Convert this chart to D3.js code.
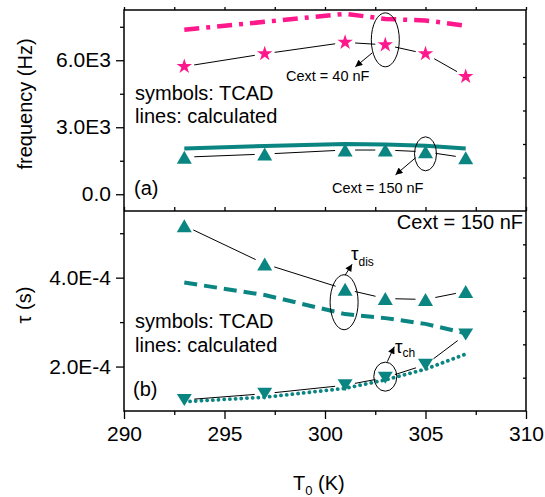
<!DOCTYPE html>
<html lang="en">
<head>
<meta charset="utf-8">
<script src="https://cdn.jsdelivr.net/npm/d3@7"></script>
<style>
  body { margin: 0; background: #ffffff; }
  svg { display: block; font-family: "Liberation Sans", Arial, sans-serif; }
</style>
</head>
<body>
<script>
// data
var temps = [293, 297, 301, 303, 305, 307];
var freq40Tcad = [5720, 6290, 6800, 6690, 6290, 5270];
var freq40Calc = [7370, 7720, 8080, 7850, 7780, 7550];
var freq150Tcad = [1660, 1800, 1980, 1980, 1900, 1630];
var freq150Calc = [2050, 2160, 2250, 2230, 2170, 2050];
var tauDisTcad = [5.17e-4, 4.31e-4, 3.74e-4, 3.53e-4, 3.51e-4, 3.69e-4];
var tauDisCalc = [3.89e-4, 3.61e-4, 3.18e-4, 3.09e-4, 2.96e-4, 2.75e-4];
var tauChTcad = [1.25e-4, 1.39e-4, 1.58e-4, 1.75e-4, 2.04e-4, 2.72e-4];
var tauChCalc = [1.21e-4, 1.31e-4, 1.51e-4, 1.70e-4, 1.94e-4, 2.28e-4];

var xTicks = [290, 295, 300, 305, 310];
var xMinor = [292.5, 297.5, 302.5, 307.5];
var freqTicks = [0, 3000, 6000];
var freqTickLabels = ["0.0", "3.0E3", "6.0E3"];
var freqMinor = [1500, 4500, 7500];
var tauTicks = [2e-4, 4e-4];
var tauTickLabels = ["2.0E-4", "4.0E-4"];
var tauMinor = [3e-4, 5e-4];

var pink = "#ff178c", teal = "#0b8582";
var W = 545, H = 497;
var left = 124, right = 526, top1 = 10, mid = 211, bot = 411;

var svg = d3.select("body").append("svg").attr("width", W).attr("height", H);

var x = d3.scaleLinear().domain([290, 310]).range([left, right]);
var yF = d3.scaleLinear().domain([-750, 8250]).range([mid, top1]);
var yT = d3.scaleLinear().domain([1e-4, 5.5e-4]).range([bot, mid]);
var rTop = d3.scaleLinear().domain([0, 6]).range([mid, top1]);
var rBot = d3.scaleLinear().domain([0, 6]).range([bot, mid]);

var defs = svg.append("defs");
defs.append("marker").attr("id", "arr")
  .attr("viewBox", "0 0 10 10").attr("refX", 10).attr("refY", 5)
  .attr("markerWidth", 9).attr("markerHeight", 7)
  .attr("markerUnits", "userSpaceOnUse").attr("orient", "auto")
  .append("path").attr("d", "M0,0L10,5L0,10z").attr("fill", "#000");

// ---- axes ----
function styleAxis(g, fs) {
  g.select(".domain").remove();
  g.selectAll("line").attr("stroke", "#000").attr("stroke-width", 1.3);
  g.selectAll("text").attr("font-size", fs).attr("fill", "#000")
    .attr("font-family", "Liberation Sans, Arial, sans-serif");
}

var bx = svg.append("g").attr("transform", "translate(0," + bot + ")")
  .call(d3.axisBottom(x).tickValues(xTicks).tickFormat(d3.format("d")).tickSize(8).tickPadding(7));
styleAxis(bx, 21);
var bxm = svg.append("g").attr("transform", "translate(0," + bot + ")")
  .call(d3.axisBottom(x).tickValues(xMinor).tickFormat("").tickSize(4));
styleAxis(bxm, 21);

var allX = xTicks.concat(xMinor);
var tx = svg.append("g").attr("transform", "translate(0," + top1 + ")")
  .call(d3.axisTop(x).tickValues(allX).tickFormat("").tickSize(3));
styleAxis(tx, 21);
var dx = svg.append("g").attr("transform", "translate(0," + mid + ")")
  .call(d3.axisTop(x).tickValues(allX).tickFormat("").tickSize(4));
styleAxis(dx, 21);

var lf = svg.append("g").attr("transform", "translate(" + left + ",0)")
  .call(d3.axisLeft(yF).tickValues(freqTicks)
    .tickFormat(function(d, i) { return freqTickLabels[i]; }).tickSize(8).tickPadding(5));
styleAxis(lf, 21);
var lfm = svg.append("g").attr("transform", "translate(" + left + ",0)")
  .call(d3.axisLeft(yF).tickValues(freqMinor).tickFormat("").tickSize(4));
styleAxis(lfm, 21);

var lt = svg.append("g").attr("transform", "translate(" + left + ",0)")
  .call(d3.axisLeft(yT).tickValues(tauTicks)
    .tickFormat(function(d, i) { return tauTickLabels[i]; }).tickSize(8).tickPadding(5));
styleAxis(lt, 21);
var ltm = svg.append("g").attr("transform", "translate(" + left + ",0)")
  .call(d3.axisLeft(yT).tickValues(tauMinor).tickFormat("").tickSize(4));
styleAxis(ltm, 21);

var rt = svg.append("g").attr("transform", "translate(" + right + ",0)")
  .call(d3.axisLeft(rTop).tickValues(d3.range(1, 6)).tickFormat("").tickSize(3));
styleAxis(rt, 21);
var rb = svg.append("g").attr("transform", "translate(" + right + ",0)")
  .call(d3.axisLeft(rBot).tickValues(d3.range(1, 6)).tickFormat("").tickSize(3));
styleAxis(rb, 21);

// ---- calculated lines ----
function calcLine(vals, y, color, width, dash, cap) {
  var line = d3.line().x(function(d, i) { return x(temps[i]); }).y(function(d) { return y(d); });
  svg.append("path").datum(vals).attr("d", line)
    .attr("fill", "none").attr("stroke", color).attr("stroke-width", width)
    .attr("stroke-dasharray", dash).attr("stroke-linecap", cap || "butt");
}
calcLine(freq40Calc, yF, pink, 4.5, "15,7,4,7");
calcLine(freq150Calc, yF, teal, 4, null);
calcLine(tauDisCalc, yT, teal, 4, "13,7");
calcLine(tauChCalc, yT, teal, 3.8, "0.1,5.6", "round");

// ---- TCAD connecting lines with gaps at the symbols ----
function gapLine(vals, y, gap) {
  for (var i = 0; i < vals.length - 1; i++) {
    var x1 = x(temps[i]), y1 = y(vals[i]), x2 = x(temps[i + 1]), y2 = y(vals[i + 1]);
    var len = Math.hypot(x2 - x1, y2 - y1), ux = (x2 - x1) / len, uy = (y2 - y1) / len;
    svg.append("line")
      .attr("x1", x1 + ux * gap).attr("y1", y1 + uy * gap)
      .attr("x2", x2 - ux * gap).attr("y2", y2 - uy * gap)
      .attr("stroke", "#000").attr("stroke-width", 1);
  }
}
gapLine(freq40Tcad, yF, 10);
gapLine(freq150Tcad, yF, 10);
gapLine(tauDisTcad, yT, 10);
gapLine(tauChTcad, yT, 10);

// ---- symbols ----
function triPath(w, h, down) {
  var s = down ? -1 : 1;
  return "M0," + (-s * h / 2) + "L" + (w / 2) + "," + (s * h / 2) + "L" + (-w / 2) + "," + (s * h / 2) + "Z";
}
function symbols(vals, y, d, color) {
  svg.append("g").selectAll("path").data(vals).enter().append("path")
    .attr("transform", function(v, i) { return "translate(" + x(temps[i]) + "," + y(v) + ")"; })
    .attr("d", d).attr("fill", color);
}
symbols(freq40Tcad, yF, d3.symbol().type(d3.symbolStar).size(74)(), pink);
symbols(freq150Tcad, yF, triPath(15, 13, false), teal);
symbols(tauDisTcad, yT, triPath(15, 13, false), teal);
symbols(tauChTcad, yT, triPath(15, 12, true), teal);

// ---- frame ----
svg.append("rect").attr("x", left).attr("y", top1).attr("width", right - left).attr("height", bot - top1)
  .attr("fill", "none").attr("stroke", "#000").attr("stroke-width", 1.5);
svg.append("line").attr("x1", left).attr("x2", right).attr("y1", mid).attr("y2", mid)
  .attr("stroke", "#000").attr("stroke-width", 1.5);

// ---- text ----
function txt(s, px, py, fs, anchor) {
  return svg.append("text").attr("x", px).attr("y", py).attr("font-size", fs)
    .attr("text-anchor", anchor || "start").attr("fill", "#000").text(s);
}
txt("symbols: TCAD", 135, 100, 20);
txt("lines: calculated", 135, 123, 20);
txt("(a)", 134, 195, 20);
txt("symbols: TCAD", 135, 328, 20);
txt("lines: calculated", 135, 352, 20);
txt("(b)", 133, 396, 20);
txt("Cext = 150 nF", 523, 229, 20, "end");
txt("Cext = 40 nF", 286, 81, 14.5);
txt("Cext = 150 nF", 332, 193, 14.5);

var t1 = txt("\u03c4", 351, 260, 19);
t1.append("tspan").attr("font-size", 12).attr("dy", 6).text("dis");
var t2 = txt("\u03c4", 395, 353, 19);
t2.append("tspan").attr("font-size", 12).attr("dy", 4).text("ch");

svg.append("text").attr("transform", "translate(32,104) rotate(-90)")
  .attr("text-anchor", "middle").attr("font-size", 20).text("frequency (Hz)");
svg.append("text").attr("transform", "translate(31,305) rotate(-90)")
  .attr("text-anchor", "middle").attr("font-size", 20).text("\u03c4 (s)");
var xl = svg.append("text").attr("x", 293).attr("y", 490).attr("font-size", 20).text("T");
xl.append("tspan").attr("font-size", 13).attr("dy", 5).text("0");
xl.append("tspan").attr("dy", -5).text(" (K)");

// ---- annotations: ellipses and arrows ----
function ellipse(cx, cy, rx, ry) {
  svg.append("ellipse").attr("cx", cx).attr("cy", cy).attr("rx", rx).attr("ry", ry)
    .attr("fill", "none").attr("stroke", "#000").attr("stroke-width", 1);
}
function arrow(x1, y1, x2, y2) {
  svg.append("line").attr("x1", x1).attr("y1", y1).attr("x2", x2).attr("y2", y2)
    .attr("stroke", "#000").attr("stroke-width", 1).attr("marker-end", "url(#arr)");
}
var ex = x(303), ey = yF(freq40Tcad[3]);
ellipse(ex, ey - 5, 14, 27);
arrow(ex - 13, ey + 8, ex - 30, ey + 22);

ex = x(305); ey = yF(freq150Tcad[4]);
ellipse(ex, ey + 2, 11, 17);
arrow(ex - 10, ey + 6, ex - 30, ey + 23);

ex = x(301); ey = yT(tauDisTcad[2]);
ellipse(ex - 1, ey + 13, 14, 27.5);
arrow(ex, ey - 14, ex + 7, ey - 25);

ex = x(303); ey = yT(tauChTcad[3]);
ellipse(ex, ey - 1, 11.5, 14.5);
arrow(ex + 2, ey - 16, ex + 9, ey - 31);
</script>
</body>
</html>
